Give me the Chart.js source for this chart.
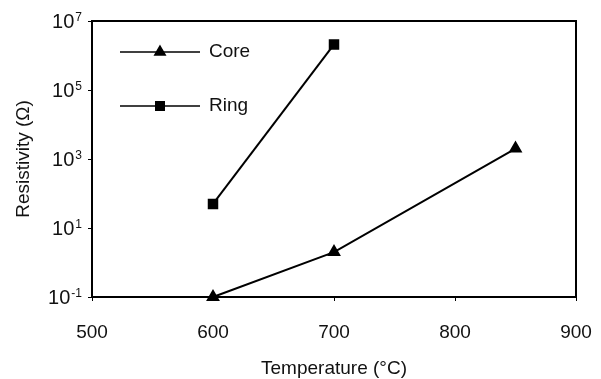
<!DOCTYPE html>
<html>
<head>
<meta charset="utf-8">
<script src="https://cdn.jsdelivr.net/npm/chart.js@4/dist/chart.umd.min.js"></script>
<style>
  html, body { margin: 0; padding: 0; background: #fff; }
  #wrap { width: 601px; height: 379px; }
</style>
</head>
<body>
<div id="wrap"><canvas id="resChart" width="601" height="379"></canvas></div>
<script>
// data
const coreTemps = [600, 700, 850];
const coreRes = [0.1, 2, 2000];
const ringTemps = [600, 700];
const ringRes = [50, 2.1e6];
const xTicks = [500, 600, 700, 800, 900];
const yTicks = [0.1, 10, 1000, 1e5, 1e7];
const yExps = ['-1', '1', '3', '5', '7'];

const FONT = "'Liberation Sans', Arial, Helvetica, sans-serif";

const toPts = (xs, ys) => xs.map((x, i) => ({ x: x, y: ys[i] }));

// frame, superscript tick labels and the in-plot legend
const extras = {
    id: 'extras',
    afterDraw(chart) {
        const c = chart.ctx;
        const a = chart.chartArea;
        const y = chart.scales.y;
        c.save();
        c.strokeStyle = '#000';
        c.lineWidth = 2;
        c.strokeRect(a.left, a.top, a.right - a.left, a.bottom - a.top);

        // y labels as 10^n
        c.fillStyle = '#111';
        yTicks.forEach((v, i) => {
            const py = y.getPixelForValue(v);
            const right = a.left - 10;
            c.font = '12px ' + FONT;
            c.textAlign = 'right';
            c.textBaseline = 'top';
            const ew = c.measureText(yExps[i]).width;
            c.fillText(yExps[i], right, py - 9);
            c.font = '20px ' + FONT;
            c.textBaseline = 'middle';
            c.fillText('10', right - ew - 1, py + 1);
        });

        // legend
        chart.data.datasets.forEach((ds, i) => {
            const ly = a.top + 31 + i * 54;
            const x0 = a.left + 28;
            c.strokeStyle = '#000';
            c.lineWidth = 1.5;
            c.beginPath();
            c.moveTo(x0, ly);
            c.lineTo(x0 + 80, ly);
            c.stroke();
            c.fillStyle = '#000';
            Chart.helpers.drawPoint(c, {
                pointStyle: ds.pointStyle,
                radius: ds.pointRadius,
                rotation: 0,
                borderWidth: 1
            }, x0 + 40, ly);
            c.fillStyle = '#111';
            c.font = '19px ' + FONT;
            c.textAlign = 'left';
            c.textBaseline = 'middle';
            c.fillText(ds.label, x0 + 89, ly);
        });
        c.restore();
    }
};

new Chart(document.getElementById('resChart'), {
    type: 'line',
    data: {
        datasets: [{
            label: 'Core',
            data: toPts(coreTemps, coreRes),
            borderColor: '#000',
            backgroundColor: '#000',
            borderWidth: 2,
            pointStyle: 'triangle',
            pointRadius: 6,
            clip: false
        }, {
            label: 'Ring',
            data: toPts(ringTemps, ringRes),
            borderColor: '#000',
            backgroundColor: '#000',
            borderWidth: 2,
            pointStyle: 'rect',
            pointRadius: 6,
            clip: false
        }]
    },
    options: {
        responsive: false,
        animation: false,
        layout: { padding: { top: 21, right: 25, left: 0, bottom: 0 } },
        plugins: { legend: { display: false }, tooltip: { enabled: false } },
        scales: {
            x: {
                type: 'linear',
                min: 500,
                max: 900,
                afterBuildTicks: s => { s.ticks = xTicks.map(v => ({ value: v })); },
                afterFit: s => { s.height = 82; s.paddingLeft = 0; s.paddingRight = 0; },
                grid: { drawOnChartArea: false, tickLength: 4, color: '#000' },
                border: { color: '#000', width: 2 },
                ticks: { color: '#111', font: { family: FONT, size: 19 }, padding: 20 },
                title: {
                    display: true,
                    text: 'Temperature (°C)',
                    color: '#111',
                    font: { family: FONT, size: 19 },
                    padding: { top: 6, bottom: -1 }
                }
            },
            y: {
                type: 'logarithmic',
                min: 0.1,
                max: 1e7,
                afterBuildTicks: s => { s.ticks = yTicks.map(v => ({ value: v })); },
                afterFit: s => { s.width = 92; },
                grid: { drawOnChartArea: false, tickLength: 4, color: '#000' },
                border: { color: '#000', width: 2 },
                ticks: { callback: () => '' },
                title: {
                    display: true,
                    text: 'Resistivity (Ω)',
                    color: '#111',
                    font: { family: FONT, size: 19 },
                    padding: { top: 12 }
                }
            }
        }
    },
    plugins: [extras]
});
</script>
</body>
</html>
